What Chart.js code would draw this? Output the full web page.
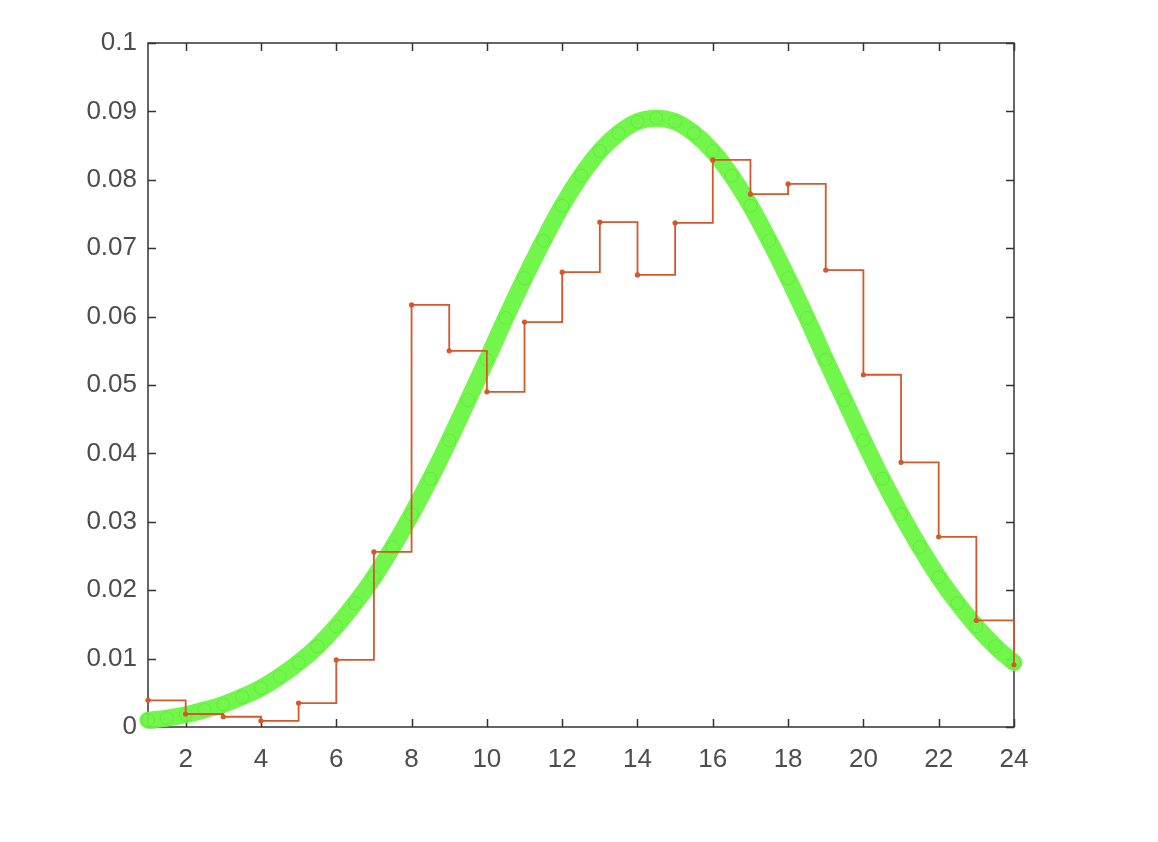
<!DOCTYPE html>
<html>
<head>
<meta charset="utf-8">
<script src="https://cdn.jsdelivr.net/npm/chart.js@4"></script>
<style>
  body { margin: 0; background: #fff; }
  #wrap { width: 1158px; height: 842px; }
</style>
</head>
<body>
<div id="wrap"><canvas id="chart"></canvas></div>
<script>
// histogram-like step series (one value per integer x)
const stepX = [1, 2, 3, 4, 5, 6, 7, 8, 9, 10, 11, 12, 13, 14, 15, 16, 17, 18, 19, 20, 21, 22, 23, 24];
const stepY = [0.0039, 0.0019, 0.0015, 0.0009, 0.0035, 0.0098, 0.0256, 0.0617, 0.0550, 0.0490,
               0.0592, 0.0665, 0.0738, 0.0661, 0.0737, 0.0829, 0.0779, 0.0794, 0.0668, 0.0515,
               0.0387, 0.0278, 0.0156, 0.0091];

// fitted curve, every half unit
const fitX = [1, 1.5, 2, 2.5, 3, 3.5, 4, 4.5, 5, 5.5, 6, 6.5, 7, 7.5, 8, 8.5, 9, 9.5, 10, 10.5,
              11, 11.5, 12, 12.5, 13, 13.5, 14, 14.5, 15, 15.5, 16, 16.5, 17, 17.5, 18, 18.5,
              19, 19.5, 20, 20.5, 21, 21.5, 22, 22.5, 23, 23.5, 24];
const fitY = [0.0010, 0.0013, 0.0018, 0.0025, 0.0033, 0.0044, 0.0057, 0.0074, 0.0094, 0.0118,
              0.0147, 0.0181, 0.0219, 0.0263, 0.0311, 0.0363, 0.0419, 0.0478, 0.0537, 0.0598,
              0.0656, 0.0711, 0.0762, 0.0806, 0.0842, 0.0868, 0.0885, 0.0890, 0.0885, 0.0868,
              0.0842, 0.0806, 0.0762, 0.0711, 0.0656, 0.0598, 0.0537, 0.0478, 0.0419, 0.0363,
              0.0311, 0.0263, 0.0219, 0.0181, 0.0147, 0.0118, 0.0094];

const xTicks = [2, 4, 6, 8, 10, 12, 14, 16, 18, 20, 22, 24];
const yTicks = [0, 0.01, 0.02, 0.03, 0.04, 0.05, 0.06, 0.07, 0.08, 0.09, 0.1];

const axisColor = '#333333';
const labelColor = '#4d4d4d';

// MATLAB style box with inward tick marks
const boxPlugin = {
    id: 'box',
    beforeDatasetsDraw(chart) {
        const { ctx, chartArea: a, scales: { x, y } } = chart;
        ctx.save();
        ctx.strokeStyle = axisColor;
        ctx.lineWidth = 1.5;
        ctx.strokeRect(a.left, a.top, a.width, a.height);
        ctx.beginPath();
        xTicks.forEach(v => {
            const px = Math.round(x.getPixelForValue(v)) + 0.5;
            ctx.moveTo(px, a.bottom); ctx.lineTo(px, a.bottom - 8);
            ctx.moveTo(px, a.top); ctx.lineTo(px, a.top + 8);
        });
        yTicks.forEach(v => {
            const py = Math.round(y.getPixelForValue(v)) + 0.5;
            ctx.moveTo(a.left, py); ctx.lineTo(a.left + 8, py);
            ctx.moveTo(a.right, py); ctx.lineTo(a.right - 8, py);
        });
        ctx.stroke();
        ctx.restore();
    }
};

const ctx = document.getElementById('chart').getContext('2d');

new Chart(ctx, {
    type: 'line',
    data: {
        datasets: [
            {
                label: 'data',
                data: stepX.map((v, i) => ({ x: v, y: stepY[i] })),
                stepped: 'before',
                borderColor: '#d4582a',
                borderWidth: 1.8,
                pointRadius: 2.6,
                pointBackgroundColor: '#d4582a',
                pointBorderColor: '#d4582a',
                pointBorderWidth: 0,
                clip: false,
                order: 0
            },
            {
                label: 'fit',
                data: fitX.map((v, i) => ({ x: v, y: fitY[i] })),
                borderColor: 'rgba(108, 245, 66, 0.95)',
                borderWidth: 17,
                borderCapStyle: 'round',
                tension: 0.4,
                pointRadius: 6.5,
                pointBorderWidth: 1,
                pointBorderColor: 'rgba(80, 225, 45, 0.55)',
                pointBackgroundColor: 'rgba(0,0,0,0)',
                clip: false,
                order: 1
            }
        ]
    },
    options: {
        responsive: true,
        maintainAspectRatio: false,
        animation: false,
        layout: {
            padding: { left: 0, right: 144, top: 43, bottom: 0 }
        },
        plugins: {
            legend: { display: false },
            tooltip: { enabled: false }
        },
        scales: {
            x: {
                type: 'linear',
                min: 1,
                max: 24,
                afterBuildTicks: s => { s.ticks = xTicks.map(v => ({ value: v })); },
                afterFit: s => { s.height = 115; },
                border: { display: false },
                grid: { display: false },
                ticks: {
                    color: labelColor,
                    padding: 9,
                    maxRotation: 0,
                    font: { family: 'Liberation Sans, Arial, sans-serif', size: 26 }
                }
            },
            y: {
                type: 'linear',
                min: 0,
                max: 0.1,
                afterBuildTicks: s => { s.ticks = yTicks.map(v => ({ value: v })); },
                afterFit: s => { s.width = 148; },
                border: { display: false },
                grid: { display: false },
                ticks: {
                    color: labelColor,
                    padding: 3,
                    callback: v => String(v),
                    font: { family: 'Liberation Sans, Arial, sans-serif', size: 26 }
                }
            }
        }
    },
    plugins: [boxPlugin]
});
</script>
</body>
</html>
